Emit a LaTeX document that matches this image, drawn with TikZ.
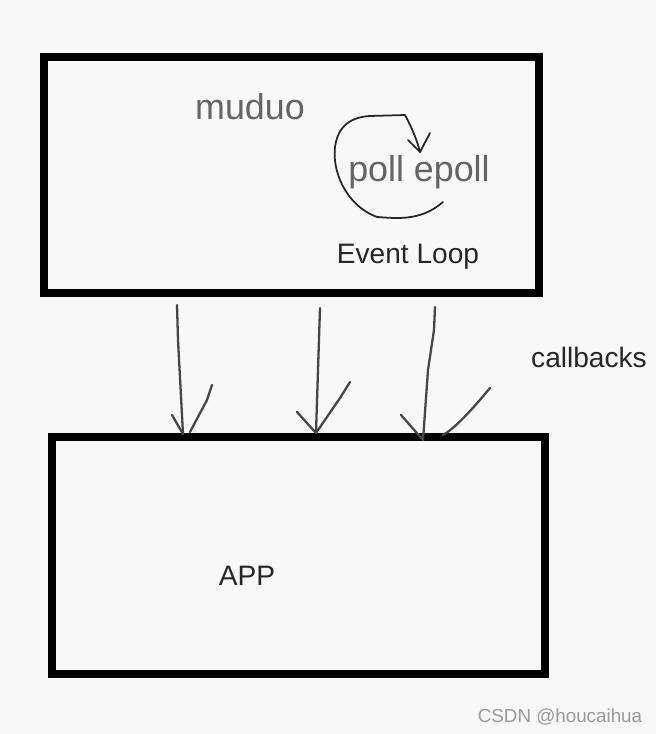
\documentclass[tikz,border=0pt]{standalone}
\usepackage{fontspec}
\setmainfont{Liberation Sans}
\usetikzlibrary{calc}
\definecolor{bgcol}{RGB}{248,248,248}
\definecolor{txtgray}{RGB}{100,100,100}
\definecolor{pencol}{RGB}{70,70,70}

\begin{document}
\begin{tikzpicture}[
  x=0.02cm,y=-0.02cm,
  box/.style={draw=black,line width=4.4pt},
  pen/.style={draw=pencol,line width=1.3pt,line cap=round,line join=round},
  loop/.style={draw=black!85,line width=1.0pt,line cap=round,line join=round},
  big/.style={font=\fontsize{20.4}{22}\selectfont,text=txtgray,inner sep=0pt},
  small/.style={font=\fontsize{16}{18}\selectfont,text=black!85,inner sep=0pt}
]
\fill[bgcol] (0,0) rectangle (656,734);

% Boxes
\draw[box] (44,57) rectangle (539,293);
\draw[box] (52,437) rectangle (545,674);

% Labels
\node[big] (muduo) at (250,107) {muduo};
\node[big] (poll) at (419,172) {poll epoll};
\node[small] (evloop) at (408,257) {Event Loop};
\node[small] (cb) at (589,357) {callbacks};
\node[small] (app) at (247,576) {APP};
\node[font=\fontsize{10.7}{12}\selectfont,text=black!40,inner sep=0pt] (csdn) at (560,717) {CSDN @houcaihua};

% Event loop circle
\draw[loop] (443,202) .. controls (420,222) and (395,218) .. (377,217)
  .. controls (345,205) and (332,170) .. (335,147)
  .. controls (338,125) and (352,117) .. (370,116)
  -- (405,115) .. controls (412,128) and (417,140) .. (420,152);
\draw[loop] (408,140) -- (420,152) -- (430,133);

% Callback arrows
\coordinate (s1) at (177,305); \coordinate (e1) at (183,434);
\coordinate (s2) at (320,308); \coordinate (e2) at (316,433);
\coordinate (s3) at (435,307); \coordinate (e3) at (423,440);
\draw[pen] (s1) -- (178,340) -- (e1);
\draw[pen] (172,415) -- (e1);
\draw[pen] (212,385) -- (207,400) -- (190,432);
\draw[pen] (s2) -- (318,370) -- (e2);
\draw[pen] (297,412) -- (e2);
\draw[pen] (350,382) -- (340,398) -- (e2);
\draw[pen] (s3) -- (434,330) -- (428,370) -- (e3);
\draw[pen] (401,415) -- (e3);
\draw[pen] (490,388) .. controls (470,412) and (455,428) .. (443,435);

\end{tikzpicture}
\end{document}
